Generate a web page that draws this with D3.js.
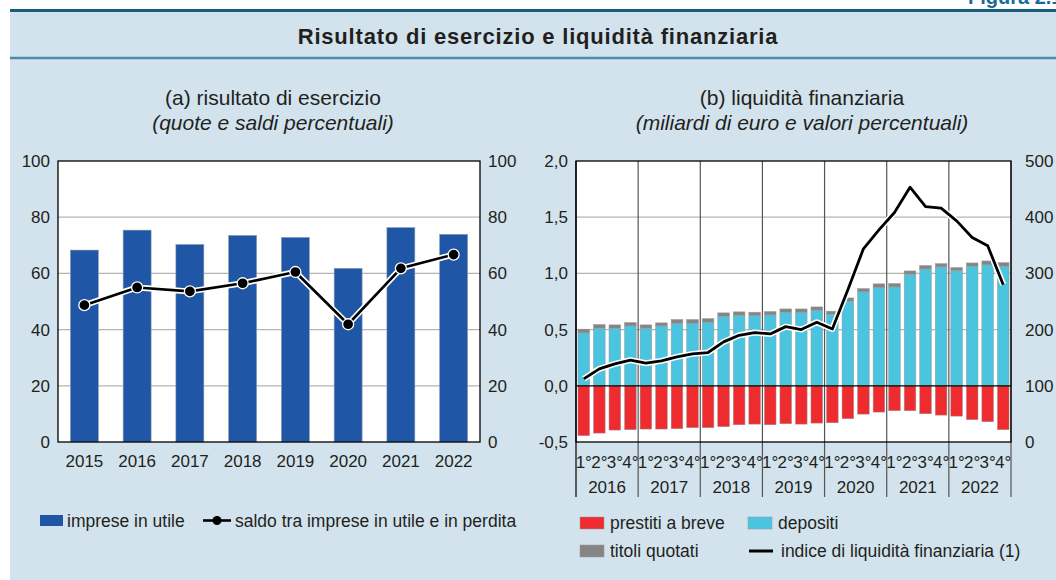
<!DOCTYPE html>
<html>
<head>
<meta charset="utf-8">
<script src="https://cdn.jsdelivr.net/npm/d3@7"></script>
<style>
  body { margin: 0; background: #fff; }
  text { font-family: "Liberation Sans", Arial, sans-serif; fill: #231f20; }
</style>
</head>
<body>
<div id="chart"></div>
<script>

// Chart data

// (a) risultato di esercizio
const years = ["2015", "2016", "2017", "2018", "2019", "2020", "2021", "2022"];
const impreseUtile = [68.3, 75.4, 70.3, 73.5, 72.8, 61.8, 76.3, 73.9];
const saldo = [48.7, 55.0, 53.6, 56.5, 60.5, 41.9, 61.8, 66.7];
const ticksA = [0, 20, 40, 60, 80, 100];

// (b) liquidita finanziaria, quarterly 2016-2022
const qYears = ["2016", "2017", "2018", "2019", "2020", "2021", "2022"];
const qLabels = ["1°", "2°", "3°", "4°"];
const prestiti = [-0.444, -0.421, -0.394, -0.391, -0.385, -0.385, -0.382, -0.373,
                  -0.373, -0.364, -0.347, -0.341, -0.347, -0.338, -0.341, -0.332,
                  -0.329, -0.293, -0.252, -0.234, -0.222, -0.222, -0.249, -0.261,
                  -0.270, -0.302, -0.320, -0.391];
const depositi = [0.471, 0.513, 0.513, 0.533, 0.513, 0.533, 0.557, 0.557,
                  0.566, 0.619, 0.628, 0.625, 0.631, 0.655, 0.655, 0.673,
                  0.637, 0.753, 0.836, 0.874, 0.880, 0.993, 1.040, 1.058,
                  1.028, 1.064, 1.076, 1.064];
const titoli = [0.033, 0.032, 0.029, 0.030, 0.029, 0.027, 0.033, 0.033,
                0.032, 0.030, 0.030, 0.030, 0.030, 0.029, 0.029, 0.029,
                0.027, 0.029, 0.029, 0.033, 0.030, 0.029, 0.030, 0.029,
                0.024, 0.029, 0.035, 0.032];
const indice = [112.4, 130.2, 139.1, 145.6, 140.2, 144.4, 151.5, 156.8,
                159.2, 178.1, 189.9, 194.7, 192.3, 205.3, 200.0, 213.0,
                201.2, 271.0, 343.8, 377.5, 408.3, 453.3, 418.9, 416.0,
                393.5, 363.9, 349.1, 279.9];
const ticksBL = [-0.5, 0, 0.5, 1.0, 1.5, 2.0];
const ticksBR = [0, 100, 200, 300, 400, 500];

const width = 1056;
const height = 580;
const plotTop = 161, plotBottom = 442;

const blue = "#1f56a5", cyan = "#4bc4e0", red = "#ee2c30", grey = "#858585";
const bg = "#d2e3ed";

// italian number format, plain hyphen as minus like the original
const itFmt = d3.formatLocale({decimal: ",", thousands: ".", grouping: [3], currency: ["", "€"], minus: "-"});
const fmt1 = itFmt.format(".1f");

const svg = d3.select("#chart")
  .append("svg")
  .attr("width", width)
  .attr("height", height);

// panel background and header
svg.append("rect").attr("x", 10).attr("y", 9).attr("width", width - 10).attr("height", height - 9).attr("fill", bg);
svg.append("line").attr("x1", 10).attr("x2", width).attr("y1", 10.5).attr("y2", 10.5)
  .attr("stroke", "#1b5d7e").attr("stroke-width", 3);
svg.append("line").attr("x1", 10).attr("x2", width).attr("y1", 58).attr("y2", 58)
  .attr("stroke", "#4c8bab").attr("stroke-width", 2.5);
svg.append("text").attr("x", 968).attr("y", 4)
  .style("font-size", "20px").style("font-weight", "bold").style("fill", "#1b6a96")
  .text("Figura 2.1");
svg.append("text").attr("x", 538).attr("y", 44).attr("text-anchor", "middle")
  .style("font-size", "22px").style("font-weight", "bold").style("letter-spacing", "0.8px")
  .text("Risultato di esercizio e liquidità finanziaria");

function subtitle(cx, l1, l2) {
  svg.append("text").attr("x", cx).attr("y", 105).attr("text-anchor", "middle")
    .style("font-size", "21px").text(l1);
  svg.append("text").attr("x", cx).attr("y", 130).attr("text-anchor", "middle")
    .style("font-size", "21px").style("font-style", "italic").text(l2);
}
subtitle(273, "(a) risultato di esercizio", "(quote e saldi percentuali)");
subtitle(802, "(b) liquidità finanziaria", "(miliardi di euro e valori percentuali)");

/*
  Panel (a)
*/
const ax0 = 58, ax1 = 480;
const xA = d3.scaleBand().domain(years).range([ax0, ax1]).paddingInner(0.47).paddingOuter(0.235);
const yA = d3.scaleLinear().domain([0, 100]).range([plotBottom, plotTop]);

const gA = svg.append("g");
gA.append("rect").attr("x", ax0).attr("y", plotTop).attr("width", ax1 - ax0).attr("height", plotBottom - plotTop).attr("fill", "#fff");

gA.selectAll(".grid").data(ticksA.filter(d => d > 0 && d < 100)).enter()
  .append("line")
  .attr("x1", ax0).attr("x2", ax1)
  .attr("y1", d => yA(d)).attr("y2", d => yA(d))
  .attr("stroke", "#b4b4b4").attr("stroke-width", 1.2);

gA.selectAll(".bar").data(impreseUtile).enter()
  .append("rect")
  .attr("x", (d, i) => xA(years[i]))
  .attr("y", d => yA(d))
  .attr("width", xA.bandwidth())
  .attr("height", d => yA(0) - yA(d))
  .attr("fill", blue)
  .attr("stroke", "#8c9bb0").attr("stroke-width", 0.6);

const cxA = (d, i) => xA(years[i]) + xA.bandwidth() / 2;
const lineA = d3.line().x(cxA).y(d => yA(d));
gA.append("path").datum(saldo).attr("d", lineA).attr("fill", "none")
  .attr("stroke", "#fff").attr("stroke-width", 6).attr("stroke-linejoin", "round");
gA.append("path").datum(saldo).attr("d", lineA).attr("fill", "none")
  .attr("stroke", "#000").attr("stroke-width", 2.6).attr("stroke-linejoin", "round");
gA.selectAll(".dot").data(saldo).enter()
  .append("circle")
  .attr("cx", cxA).attr("cy", d => yA(d)).attr("r", 5.5)
  .attr("fill", "#000").attr("stroke", "#fff").attr("stroke-width", 1.3);

gA.append("rect").attr("x", ax0).attr("y", plotTop).attr("width", ax1 - ax0).attr("height", plotBottom - plotTop)
  .attr("fill", "none").attr("stroke", "#000").attr("stroke-width", 1.3);

// axes (a)
gA.append("g").attr("transform", `translate(${ax0 - 8},0)`)
  .call(d3.axisLeft(yA).tickValues(ticksA).tickSize(0).tickPadding(0))
  .call(g => g.select(".domain").remove());
gA.append("g").attr("transform", `translate(${ax1 + 8},0)`)
  .call(d3.axisRight(yA).tickValues(ticksA).tickSize(0).tickPadding(0))
  .call(g => g.select(".domain").remove());
gA.append("g").attr("transform", `translate(0,${plotBottom + 5})`)
  .call(d3.axisBottom(xA).tickSize(0).tickPadding(8))
  .call(g => g.select(".domain").remove());

/*
  Panel (b)
*/
const bx0 = 576, bx1 = 1011;
const quarters = [];
qYears.forEach(y => qLabels.forEach(q => quarters.push(y + "-" + q)));
const xB = d3.scaleBand().domain(quarters).range([bx0, bx1]).paddingInner(0.25).paddingOuter(0.125);
const yB = d3.scaleLinear().domain([-0.5, 2.0]).range([plotBottom, plotTop]);
const yB2 = d3.scaleLinear().domain([0, 500]).range([plotBottom, plotTop]);
const stepB = xB.step();

const gB = svg.append("g");
gB.append("rect").attr("x", bx0).attr("y", plotTop).attr("width", bx1 - bx0).attr("height", plotBottom - plotTop).attr("fill", "#fff");

gB.selectAll(".grid").data([0.5, 1.0, 1.5]).enter()
  .append("line")
  .attr("x1", bx0).attr("x2", bx1)
  .attr("y1", d => yB(d)).attr("y2", d => yB(d))
  .attr("stroke", "#b4b4b4").attr("stroke-width", 1.2);

// year separators, running down through the label area
const sepX = d3.range(qYears.length + 1).map(k => bx0 + k * 4 * stepB);
gB.selectAll(".sep").data(sepX).enter()
  .append("line")
  .attr("x1", d => d).attr("x2", d => d)
  .attr("y1", plotTop).attr("y2", 497)
  .attr("stroke", (d, i) => (i === 0 ? "#000" : "#555")).attr("stroke-width", 1.2);

const barB = (data, y0, y1, color) => gB.selectAll(null).data(data).enter()
  .append("rect")
  .attr("x", (d, i) => xB(quarters[i]))
  .attr("y", (d, i) => yB(Math.max(y0(d, i), y1(d, i))))
  .attr("width", xB.bandwidth())
  .attr("height", (d, i) => Math.abs(yB(y0(d, i)) - yB(y1(d, i))))
  .attr("fill", color)
  .attr("stroke", "#9a9a9a").attr("stroke-width", 0.5);

barB(prestiti, () => 0, d => d, red);
barB(depositi, () => 0, d => d, cyan);
barB(titoli, (d, i) => depositi[i], (d, i) => depositi[i] + d, grey);

gB.append("line").attr("x1", bx0).attr("x2", bx1).attr("y1", yB(0)).attr("y2", yB(0))
  .attr("stroke", "#000").attr("stroke-width", 1.3);

const lineB = d3.line().x((d, i) => xB(quarters[i]) + xB.bandwidth() / 2).y(d => yB2(d));
gB.append("path").datum(indice).attr("d", lineB).attr("fill", "none")
  .attr("stroke", "#fff").attr("stroke-width", 6).attr("stroke-linejoin", "round");
gB.append("path").datum(indice).attr("d", lineB).attr("fill", "none")
  .attr("stroke", "#000").attr("stroke-width", 2.8).attr("stroke-linejoin", "round");

gB.append("rect").attr("x", bx0).attr("y", plotTop).attr("width", bx1 - bx0).attr("height", plotBottom - plotTop)
  .attr("fill", "none").attr("stroke", "#000").attr("stroke-width", 1.3);

// axes (b)
gB.append("g").attr("transform", `translate(${bx0 - 8},0)`)
  .call(d3.axisLeft(yB).tickValues(ticksBL).tickFormat(fmt1).tickSize(0).tickPadding(0))
  .call(g => g.select(".domain").remove());
gB.append("g").attr("transform", `translate(${bx1 + 14},0)`)
  .call(d3.axisRight(yB2).tickValues(ticksBR).tickSize(0).tickPadding(0))
  .call(g => g.select(".domain").remove());
gB.append("g").attr("transform", `translate(0,${plotBottom + 6})`)
  .call(d3.axisBottom(xB).tickSize(0).tickPadding(8).tickFormat(d => d.split("-")[1]))
  .call(g => g.select(".domain").remove());
const xYear = d3.scaleBand().domain(qYears).range([bx0, bx1]);
gB.append("g").attr("transform", `translate(0,${plotBottom + 31})`)
  .call(d3.axisBottom(xYear).tickSize(0).tickPadding(8))
  .call(g => g.select(".domain").remove());

// tick text styling
svg.selectAll(".tick text").style("font-size", "17px").style("fill", "#231f20")
  .style("font-family", "'Liberation Sans', Arial, sans-serif");

/*
  Legends
*/
const lg = svg.append("g").style("font-size", "17.5px");
lg.append("rect").attr("x", 40).attr("y", 515).attr("width", 23).attr("height", 11).attr("fill", blue);
lg.append("text").attr("x", 67).attr("y", 527).text("imprese in utile");
lg.append("line").attr("x1", 203).attr("x2", 231).attr("y1", 520.5).attr("y2", 520.5)
  .attr("stroke", "#000").attr("stroke-width", 2.6);
lg.append("circle").attr("cx", 217).attr("cy", 520.5).attr("r", 4.5).attr("fill", "#000");
lg.append("text").attr("x", 235).attr("y", 527).text("saldo tra imprese in utile e in perdita");

const legB = [
  {label: "prestiti a breve", color: red, x: 580, y: 523},
  {label: "depositi", color: cyan, x: 748, y: 523},
  {label: "titoli quotati", color: grey, x: 580, y: 551}
];
legB.forEach(d => {
  lg.append("rect").attr("x", d.x).attr("y", d.y - 6).attr("width", 24).attr("height", 12)
    .attr("fill", d.color).attr("stroke", "#999").attr("stroke-width", 0.5);
  lg.append("text").attr("x", d.x + 30).attr("y", d.y + 6).text(d.label);
});
lg.append("line").attr("x1", 749).attr("x2", 773).attr("y1", 551).attr("y2", 551)
  .attr("stroke", "#000").attr("stroke-width", 3);
lg.append("text").attr("x", 781).attr("y", 557).text("indice di liquidità finanziaria (1)");

</script>
</body>
</html>
